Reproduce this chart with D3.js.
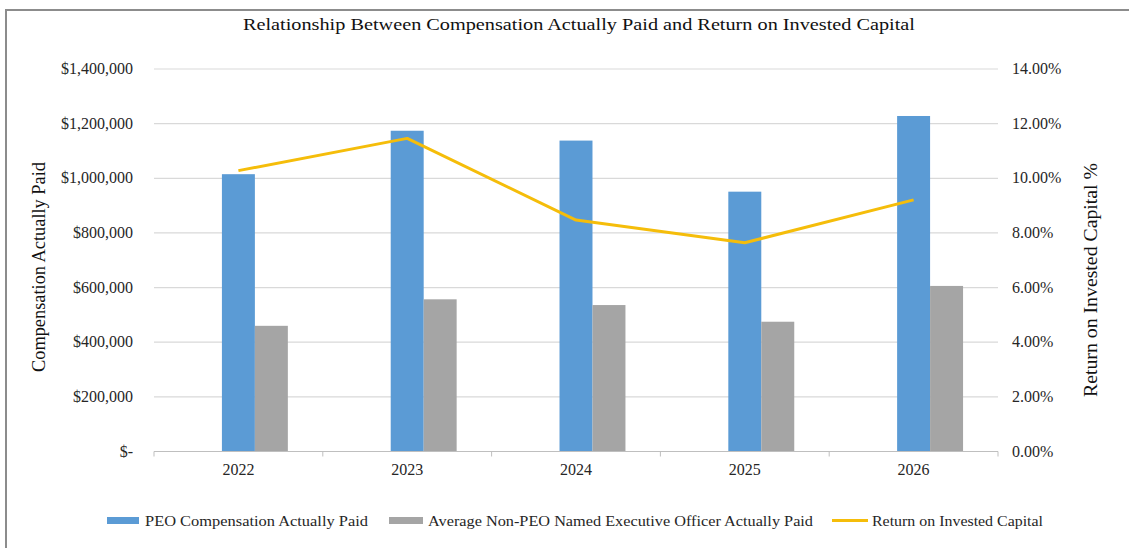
<!DOCTYPE html>
<html>
<head>
<meta charset="utf-8">
<script src="https://cdn.jsdelivr.net/npm/d3@7"></script>
<style>
  html, body { margin: 0; padding: 0; background: #fff; }
  svg { display: block; font-family: "Liberation Serif", "Times New Roman", serif; }
</style>
</head>
<body>
<svg id="chart" width="1136" height="548"></svg>
<script>
// Fiscal years on the category axis
const years = ["2022", "2023", "2024", "2025", "2026"];
// PEO compensation actually paid ($)
const peoPaid = [1015000, 1174000, 1138000, 951000, 1228000];
// Average non-PEO named executive officer compensation actually paid ($)
const neoPaid = [460000, 557000, 536000, 475000, 606000];
// Return on invested capital (%)
const roic = [10.28, 11.46, 8.47, 7.64, 9.21];
// Axis ticks
const leftTicks = [0, 200000, 400000, 600000, 800000, 1000000, 1200000, 1400000];
const rightTicks = [0, 2, 4, 6, 8, 10, 12, 14];

(function () {
const svg = d3.select("#chart");
const W = 1136, H = 548;
const plotL = 154, plotR = 998, plotT = 69, plotB = 451.5;

const BLUE = "#5b9bd5", GRAY = "#a5a5a5", GOLD = "#f5bd0a";

// frame
svg.append("path")
  .attr("d", `M6,${H} L6,10 L1129,10`)
  .attr("fill", "none").attr("stroke", "#8c8c8c").attr("stroke-width", 2);

const x = d3.scaleBand().domain(years).range([plotL, plotR]).paddingInner(0).paddingOuter(0);
const series = ["roic", "peo", "neo"];
const xi = d3.scaleBand().domain(series).range([0, x.bandwidth()]).paddingInner(0).paddingOuter(1.06);
const yL = d3.scaleLinear().domain([0, 1400000]).range([plotB, plotT]);
const yR = d3.scaleLinear().domain([0, 14]).range([plotB, plotT]);

// gridlines
svg.append("g").selectAll("line").data(leftTicks.slice(1)).join("line")
  .attr("x1", plotL).attr("x2", plotR)
  .attr("y1", d => yL(d)).attr("y2", d => yL(d))
  .attr("stroke", "#d9d9d9").attr("stroke-width", 1.2);

// left axis labels
const fmtDollar = d => d === 0 ? "$-" : "$" + d3.format(",")(d);
svg.append("g").selectAll("text").data(leftTicks).join("text")
  .attr("x", 133).attr("y", d => yL(d) + 5)
  .attr("text-anchor", "end")
  .attr("font-size", 16).attr("fill", "#262626")
  .text(fmtDollar);

// right axis labels
svg.append("g").selectAll("text").data(rightTicks).join("text")
  .attr("x", 1012).attr("y", d => yR(d) + 5)
  .attr("text-anchor", "start")
  .attr("font-size", 16).attr("fill", "#262626")
  .text(d => d.toFixed(2) + "%");

// bars
const bars = svg.append("g");
bars.selectAll("rect.peo").data(years).join("rect")
  .attr("class", "peo")
  .attr("x", d => x(d) + xi("peo"))
  .attr("width", xi.bandwidth())
  .attr("y", (d, i) => yL(peoPaid[i]))
  .attr("height", (d, i) => yL(0) - yL(peoPaid[i]))
  .attr("fill", BLUE);
bars.selectAll("rect.neo").data(years).join("rect")
  .attr("class", "neo")
  .attr("x", d => x(d) + xi("neo"))
  .attr("width", xi.bandwidth())
  .attr("y", (d, i) => yL(neoPaid[i]))
  .attr("height", (d, i) => yL(0) - yL(neoPaid[i]))
  .attr("fill", GRAY);

// category axis baseline and ticks
svg.append("line")
  .attr("x1", plotL).attr("x2", plotR).attr("y1", plotB).attr("y2", plotB)
  .attr("stroke", "#bfbfbf").attr("stroke-width", 1.2);
const bounds = years.map(d => x(d)).concat([plotR]);
svg.append("g").selectAll("line").data(bounds).join("line")
  .attr("x1", d => d).attr("x2", d => d)
  .attr("y1", plotB).attr("y2", plotB + 5)
  .attr("stroke", "#bfbfbf").attr("stroke-width", 1);

svg.append("g").selectAll("text").data(years).join("text")
  .attr("x", d => x(d) + x.bandwidth() / 2)
  .attr("y", 475)
  .attr("text-anchor", "middle")
  .attr("font-size", 16).attr("fill", "#262626")
  .text(d => d);

// ROIC line
const line = d3.line()
  .x((d, i) => x(years[i]) + x.bandwidth() / 2)
  .y(d => yR(d));
svg.append("path")
  .datum(roic)
  .attr("d", line)
  .attr("fill", "none").attr("stroke", GOLD).attr("stroke-width", 3)
  .attr("stroke-linejoin", "round");

// title
svg.append("text")
  .attr("x", 579).attr("y", 30)
  .attr("text-anchor", "middle")
  .attr("font-size", 17).attr("fill", "#111")
  .attr("textLength", 672).attr("lengthAdjust", "spacingAndGlyphs")
  .text("Relationship Between Compensation Actually Paid and Return on Invested Capital");

// axis titles
svg.append("text")
  .attr("transform", "translate(45,267) rotate(-90)")
  .attr("text-anchor", "middle")
  .attr("font-size", 18).attr("fill", "#111")
  .attr("textLength", 210).attr("lengthAdjust", "spacingAndGlyphs")
  .text("Compensation Actually Paid");
svg.append("text")
  .attr("transform", "translate(1097,280) rotate(-90)")
  .attr("text-anchor", "middle")
  .attr("font-size", 18).attr("fill", "#111")
  .attr("textLength", 234).attr("lengthAdjust", "spacingAndGlyphs")
  .text("Return on Invested Capital %");

// legend
const legendItems = [
  { label: "PEO Compensation Actually Paid", kind: "rect", color: BLUE, x0: 107, x1: 139, tx: 145, tw: 223 },
  { label: "Average Non-PEO Named Executive Officer Actually Paid", kind: "rect", color: GRAY, x0: 389, x1: 423, tx: 428, tw: 385 },
  { label: "Return on Invested Capital", kind: "line", color: GOLD, x0: 832, x1: 868, tx: 872, tw: 171 }
];
const lg = svg.append("g");
legendItems.forEach(it => {
  if (it.kind === "rect") {
    lg.append("rect").attr("x", it.x0).attr("y", 517).attr("width", it.x1 - it.x0).attr("height", 7).attr("fill", it.color);
  } else {
    lg.append("line").attr("x1", it.x0).attr("x2", it.x1).attr("y1", 520.5).attr("y2", 520.5)
      .attr("stroke", it.color).attr("stroke-width", 3);
  }
  lg.append("text").attr("x", it.tx).attr("y", 526)
    .attr("font-size", 14.5).attr("fill", "#262626")
    .attr("textLength", it.tw).attr("lengthAdjust", "spacingAndGlyphs")
    .text(it.label);
});
})();
</script>
</body>
</html>
